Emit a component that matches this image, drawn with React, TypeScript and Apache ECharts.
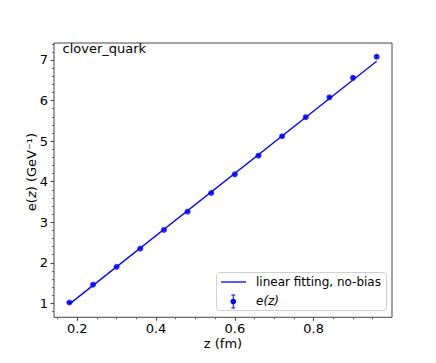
import React, { useEffect, useRef } from "react";
import * as echarts from "echarts";

// Data
const zValues = [0.18, 0.24, 0.3, 0.36, 0.42, 0.48, 0.54, 0.6, 0.66, 0.72, 0.78, 0.84, 0.9, 0.96];
const eValues = [1.02, 1.46, 1.9, 2.35, 2.81, 3.26, 3.72, 4.18, 4.64, 5.12, 5.59, 6.08, 6.56, 7.08];
const eErrors = [0.01, 0.01, 0.01, 0.01, 0.01, 0.01, 0.01, 0.015, 0.015, 0.02, 0.02, 0.02, 0.025, 0.03];
const fitZ = [0.18, 0.96];
const fitE = [0.98, 6.97];

const xTicks = [0.2, 0.4, 0.6, 0.8];
const xMinorTicks = [0.15, 0.25, 0.3, 0.35, 0.45, 0.5, 0.55, 0.65, 0.7, 0.75, 0.85, 0.9, 0.95];
const yTicks = [1, 2, 3, 4, 5, 6, 7];
const yMinorTicks = [0.8, 1.2, 1.4, 1.6, 1.8, 2.2, 2.4, 2.6, 2.8, 3.2, 3.4, 3.6, 3.8, 4.2, 4.4, 4.6, 4.8, 5.2, 5.4, 5.6, 5.8, 6.2, 6.4, 6.6, 6.8, 7.2, 7.4];

const FONT = "DejaVu Sans";
const BLUE = "#0000ff";
const SPINE = "#444";

export default function App() {
  const ref = useRef<HTMLDivElement>(null);
  useEffect(() => {
    document.body.style.margin = "0";
    const chart = echarts.init(ref.current!, null, { renderer: "svg" });
    const xMin = 0.141, xMax = 0.999, yMin = 0.655, yMax = 7.419;
    const gridLeft = 54, gridTop = 43, gridW = 338, gridH = 274.3;
    const baseX = {
      type: "value" as const,
      min: xMin,
      max: xMax,
      position: "bottom" as const,
      splitLine: { show: false },
      axisLine: { show: false },
    };
    const baseY = {
      type: "value" as const,
      min: yMin,
      max: yMax,
      position: "left" as const,
      splitLine: { show: false },
      axisLine: { show: false },
    };
    chart.setOption({
      animation: false,
      grid: {
        left: gridLeft,
        top: gridTop,
        width: gridW,
        height: gridH,
        show: true,
        borderColor: SPINE,
        borderWidth: 1,
        backgroundColor: "#fff",
      },
      xAxis: [
        {
          ...baseX,
          axisTick: { show: true, length: 3.5, customValues: xTicks, lineStyle: { color: SPINE, width: 1 } },
          axisLabel: {
            show: true,
            customValues: xTicks,
            formatter: (v: number) => v.toFixed(1),
            fontFamily: FONT,
            fontSize: 13,
            color: "#000",
            margin: 5,
          },
        },
        {
          ...baseX,
          axisTick: { show: true, length: 2, customValues: xMinorTicks, lineStyle: { color: SPINE, width: 0.8 } },
          axisLabel: { show: false },
        },
      ],
      yAxis: [
        {
          ...baseY,
          axisTick: { show: true, length: 3.5, customValues: yTicks, lineStyle: { color: SPINE, width: 1 } },
          axisLabel: {
            show: true,
            customValues: yTicks,
            formatter: (v: number) => String(Math.round(v)),
            fontFamily: FONT,
            fontSize: 13,
            color: "#000",
            margin: 6,
          },
        },
        {
          ...baseY,
          axisTick: { show: true, length: 2, customValues: yMinorTicks, lineStyle: { color: SPINE, width: 0.8 } },
          axisLabel: { show: false },
        },
      ],
      series: [
        {
          type: "line",
          xAxisIndex: 0,
          yAxisIndex: 0,
          data: fitZ.map((z, i) => [z, fitE[i]]),
          symbol: "none",
          lineStyle: { color: BLUE, width: 1.3 },
          z: 2,
        },
        {
          type: "custom",
          xAxisIndex: 0,
          yAxisIndex: 0,
          data: zValues.map((z, i) => [z, eValues[i], eErrors[i]]),
          renderItem: (params: any, api: any) => {
            const z = api.value(0);
            const e = api.value(1);
            const err = api.value(2);
            const lo = api.coord([z, e - err]);
            const hi = api.coord([z, e + err]);
            const cw = 2;
            const style = { stroke: BLUE, lineWidth: 1 };
            return {
              type: "group",
              children: [
                { type: "line", shape: { x1: lo[0], y1: lo[1], x2: hi[0], y2: hi[1] }, style },
                { type: "line", shape: { x1: lo[0] - cw, y1: lo[1], x2: lo[0] + cw, y2: lo[1] }, style },
                { type: "line", shape: { x1: hi[0] - cw, y1: hi[1], x2: hi[0] + cw, y2: hi[1] }, style },
              ],
            };
          },
          z: 3,
        },
        {
          type: "scatter",
          xAxisIndex: 0,
          yAxisIndex: 0,
          data: zValues.map((z, i) => [z, eValues[i]]),
          symbol: "circle",
          symbolSize: 6,
          itemStyle: { color: BLUE },
          z: 4,
        },
      ],
      graphic: [
        {
          type: "text",
          x: 62.5,
          y: 48.5,
          z: 10,
          style: {
            text: "clover_quark",
            fontFamily: FONT,
            fontSize: 13,
            fill: "#000",
            align: "left",
            verticalAlign: "middle",
          },
        },
        {
          type: "text",
          x: 223,
          y: 343,
          style: {
            text: "z (fm)",
            fontFamily: FONT,
            fontSize: 13,
            fill: "#000",
            align: "center",
            verticalAlign: "middle",
          },
        },
        {
          type: "text",
          x: 31.5,
          y: 172,
          rotation: Math.PI / 2,
          style: {
            text: "{a|e(}{b|z}{a|) (GeV⁻¹)}",
            fontFamily: FONT,
            fontSize: 13,
            fill: "#000",
            align: "center",
            verticalAlign: "middle",
            rich: {
              a: { fontFamily: FONT, fontSize: 13, fill: "#000" },
              b: { fontFamily: FONT, fontSize: 13, fill: "#000", fontStyle: "italic" },
            },
          },
        },
        {
          type: "rect",
          z: 10,
          shape: { x: 216.5, y: 272.5, width: 170, height: 38, r: 3 },
          style: { fill: "rgba(255,255,255,0.85)", stroke: "#d0d0d0", lineWidth: 1 },
        },
        {
          type: "line",
          z: 11,
          shape: { x1: 221, y1: 282, x2: 246, y2: 282 },
          style: { stroke: BLUE, lineWidth: 1.3 },
        },
        {
          type: "line",
          z: 11,
          shape: { x1: 233.3, y1: 295, x2: 233.3, y2: 308 },
          style: { stroke: BLUE, lineWidth: 1 },
        },
        {
          type: "line",
          z: 11,
          shape: { x1: 231.3, y1: 295, x2: 235.3, y2: 295 },
          style: { stroke: BLUE, lineWidth: 1 },
        },
        {
          type: "line",
          z: 11,
          shape: { x1: 231.3, y1: 308, x2: 235.3, y2: 308 },
          style: { stroke: BLUE, lineWidth: 1 },
        },
        {
          type: "circle",
          z: 11,
          shape: { cx: 233.3, cy: 301.5, r: 2.8 },
          style: { fill: BLUE },
        },
        {
          type: "text",
          z: 11,
          x: 256,
          y: 282,
          style: {
            text: "linear fitting, no-bias",
            fontFamily: FONT,
            fontSize: 12,
            fill: "#000",
            align: "left",
            verticalAlign: "middle",
          },
        },
        {
          type: "text",
          z: 11,
          x: 256,
          y: 301,
          style: {
            text: "e(z)",
            fontFamily: FONT,
            fontSize: 12,
            fontStyle: "italic",
            fill: "#000",
            align: "left",
            verticalAlign: "middle",
          },
        },
      ],
    });
    return () => chart.dispose();
  }, []);
  return <div ref={ref} style={{ width: 436, height: 363 }} />;
}
